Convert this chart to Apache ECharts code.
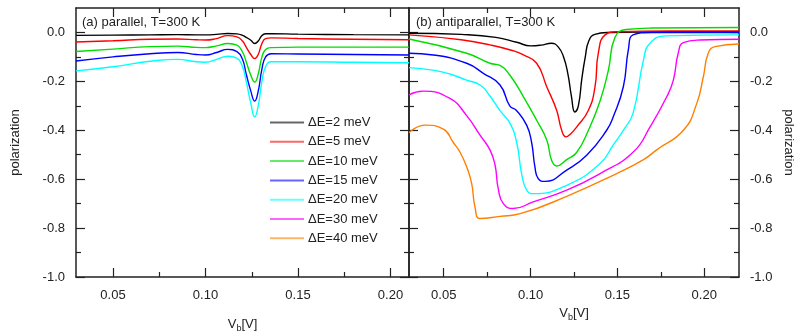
<!DOCTYPE html>
<html>
<head>
<meta charset="utf-8">
<script src="https://cdn.jsdelivr.net/npm/echarts@6/dist/echarts.min.js"></script>
<style>
  html, body { margin: 0; padding: 0; background: #fff; }
  #chart { width: 798px; height: 334px; }
</style>
</head>
<body>
<div id="chart"></div>
<script>
// legend names / colours
const names = ['ΔE=2 meV', 'ΔE=5 meV', 'ΔE=10 meV', 'ΔE=15 meV', 'ΔE=20 meV', 'ΔE=30 meV', 'ΔE=40 meV']
const colors = ['#000000', '#ff0000', '#00dd00', '#0000ff', '#00ffff', '#ff00ff', '#ff8000']

// tick labels
const xMajor = [0.05, 0.10, 0.15, 0.20]
const xMinor = [0.075, 0.125, 0.175]
const yMajor = [-1.0, -0.8, -0.6, -0.4, -0.2, 0.0]
const yMinor = [-0.9, -0.7, -0.5, -0.3, -0.1]

// (a) parallel -- all curves share one V_b grid
const xPar = [0.03, 0.05, 0.07, 0.085, 0.095, 0.10, 0.106, 0.112, 0.117, 0.120, 0.122, 0.1245, 0.1266, 0.1285, 0.1305, 0.1325, 0.1355, 0.15, 0.18, 0.21]
const par2 = [-0.012, -0.011, -0.010, -0.009, -0.010, -0.010, -0.008, -0.004, -0.006, -0.012, -0.020, -0.032, -0.045, -0.035, -0.012, -0.005, -0.005, -0.007, -0.009, -0.010]
const par5 = [-0.039, -0.034, -0.028, -0.027, -0.030, -0.031, -0.025, -0.013, -0.018, -0.035, -0.060, -0.090, -0.107, -0.090, -0.045, -0.025, -0.022, -0.025, -0.028, -0.030]
const par10 = [-0.078, -0.068, -0.058, -0.056, -0.061, -0.062, -0.055, -0.045, -0.052, -0.080, -0.120, -0.175, -0.203, -0.170, -0.100, -0.070, -0.062, -0.060, -0.060, -0.060]
const par15 = [-0.117, -0.100, -0.087, -0.082, -0.090, -0.092, -0.082, -0.069, -0.078, -0.110, -0.170, -0.240, -0.281, -0.240, -0.150, -0.100, -0.087, -0.088, -0.090, -0.092]
const par20 = [-0.157, -0.140, -0.118, -0.110, -0.120, -0.122, -0.110, -0.097, -0.105, -0.140, -0.200, -0.290, -0.345, -0.300, -0.200, -0.140, -0.120, -0.120, -0.122, -0.124]

// (b) antiparallel -- each curve has its own V_b points
const xAnti2 = [0.03, 0.06, 0.08, 0.092, 0.100, 0.106, 0.112, 0.116, 0.119, 0.1215, 0.1235, 0.1255, 0.1275, 0.1295, 0.1315, 0.1335, 0.137, 0.145, 0.18, 0.22]
const anti2 = [-0.003, -0.008, -0.020, -0.040, -0.055, -0.052, -0.044, -0.060, -0.100, -0.170, -0.260, -0.325, -0.300, -0.190, -0.100, -0.035, -0.008, 0.0, 0.003, 0.003]
const xAnti5 = [0.03, 0.06, 0.0766, 0.09, 0.0959, 0.1035, 0.1093, 0.115, 0.1179, 0.1204, 0.123, 0.1266, 0.1333, 0.1371, 0.139, 0.1429, 0.15, 0.18, 0.22]
const anti5 = [-0.010, -0.030, -0.051, -0.075, -0.092, -0.126, -0.222, -0.318, -0.400, -0.427, -0.415, -0.386, -0.318, -0.222, -0.085, -0.010, 0.003, 0.006, 0.006]
const xAnti10 = [0.03, 0.0632, 0.0766, 0.0824, 0.088, 0.0959, 0.1035, 0.1093, 0.1122, 0.115, 0.1208, 0.1266, 0.1333, 0.14, 0.1448, 0.1486, 0.155, 0.17, 0.22]
const anti10 = [-0.027, -0.085, -0.126, -0.135, -0.174, -0.263, -0.359, -0.440, -0.525, -0.546, -0.520, -0.490, -0.400, -0.280, -0.154, -0.020, 0.012, 0.018, 0.020]
const xAnti15 = [0.03, 0.044, 0.0632, 0.0728, 0.0824, 0.088, 0.092, 0.0978, 0.1006, 0.1025, 0.1044, 0.1083, 0.1208, 0.1323, 0.1438, 0.1476, 0.1534, 0.1563, 0.159, 0.17, 0.22]
const anti15 = [-0.085, -0.092, -0.126, -0.167, -0.215, -0.300, -0.320, -0.380, -0.450, -0.550, -0.598, -0.609, -0.563, -0.502, -0.400, -0.345, -0.222, -0.070, -0.010, 0.0, 0.0]
const xAnti20 = [0.03, 0.0438, 0.0536, 0.0632, 0.0709, 0.0766, 0.0824, 0.088, 0.092, 0.0949, 0.0978, 0.1016, 0.1208, 0.14, 0.1476, 0.1534, 0.159, 0.165, 0.1688, 0.178, 0.22]
const anti20 = [-0.144, -0.154, -0.170, -0.195, -0.215, -0.260, -0.320, -0.370, -0.450, -0.580, -0.645, -0.659, -0.625, -0.536, -0.460, -0.400, -0.330, -0.113, -0.044, -0.014, -0.010]
const xAnti30 = [0.03, 0.038, 0.0536, 0.0632, 0.0709, 0.0766, 0.0795, 0.0814, 0.0843, 0.09, 0.1015, 0.1208, 0.14, 0.159, 0.1688, 0.1784, 0.1822, 0.185, 0.188, 0.1976, 0.22]
const anti30 = [-0.255, -0.240, -0.270, -0.340, -0.420, -0.480, -0.540, -0.640, -0.700, -0.720, -0.693, -0.645, -0.577, -0.490, -0.386, -0.263, -0.195, -0.085, -0.042, -0.031, -0.028]
const xAnti40 = [0.03, 0.0392, 0.0498, 0.0555, 0.0594, 0.0632, 0.0661, 0.068, 0.0709, 0.0824, 0.094, 0.1208, 0.1496, 0.165, 0.1726, 0.188, 0.1957, 0.1995, 0.2023, 0.2062, 0.22]
const anti40 = [-0.410, -0.379, -0.395, -0.450, -0.490, -0.550, -0.618, -0.714, -0.761, -0.752, -0.741, -0.670, -0.577, -0.520, -0.480, -0.400, -0.290, -0.180, -0.085, -0.058, -0.047]

const FONT = 'Liberation Sans'
const INK = '#222'

const zip = (xs, ys) => xs.map((x, i) => [x, ys[i]])

// one grid gets 4 x axes (bottom/top, major/minor) and 4 y axes
function xAxesFor(gi, max, nameGap) {
  const base = {
    type: 'value', gridIndex: gi, min: 0.03, max: max,
    splitLine: {show: false},
    axisLine: {onZero: false, lineStyle: {color: INK, width: 1.5}},
  }
  const tick = (vals, len) => ({show: true, inside: true, length: len, customValues: vals, lineStyle: {color: INK, width: 1.2}})
  return [
    Object.assign({}, base, {
      position: 'bottom',
      axisTick: tick(xMajor, 9),
      axisLabel: {customValues: xMajor, margin: 12, color: INK, fontSize: 13, fontFamily: FONT, formatter: v => v.toFixed(2)},
      name: 'V{s|b}[V]',
      nameLocation: 'middle', nameGap: nameGap,
      nameTextStyle: {color: INK, fontSize: 13, fontFamily: FONT, rich: {s: {fontSize: 9, padding: [8, 0, 0, 0], fontFamily: FONT, color: INK}}},
    }),
    Object.assign({}, base, {position: 'bottom', axisLine: {show: false, onZero: false}, axisTick: tick(xMinor, 5), axisLabel: {show: false}}),
    Object.assign({}, base, {position: 'top', axisTick: tick(xMajor, 9), axisLabel: {show: false}}),
    Object.assign({}, base, {position: 'top', axisLine: {show: false, onZero: false}, axisTick: tick(xMinor, 5), axisLabel: {show: false}}),
  ]
}

function yAxesFor(gi, labelSide) {
  const base = {
    type: 'value', gridIndex: gi, min: -1.0, max: 0.1,
    splitLine: {show: false},
    axisLine: {onZero: false, lineStyle: {color: INK, width: 1.5}},
  }
  const tick = (vals, len) => ({show: true, inside: true, length: len, customValues: vals, lineStyle: {color: INK, width: 1.2}})
  const major = side => Object.assign({}, base, {
    position: side,
    axisTick: tick(yMajor, 9),
    axisLabel: side === labelSide
      ? {customValues: yMajor, margin: 11, color: INK, fontSize: 13, fontFamily: FONT, formatter: v => v.toFixed(1)}
      : {show: false},
    name: side === labelSide ? 'polarization' : '',
    nameLocation: 'middle',
    nameRotate: side === 'left' ? 90 : -90,
    nameGap: side === 'left' ? 54 : 43,
    nameTextStyle: {color: INK, fontSize: 13, fontFamily: FONT},
  })
  const minor = side => Object.assign({}, base, {position: side, axisLine: {show: false, onZero: false}, axisTick: tick(yMinor, 5), axisLabel: {show: false}})
  return [major('left'), minor('left'), major('right'), minor('right')]
}

function lineSeries(name, color, data, axisIdx) {
  return {
    name: name, type: 'line', data: data,
    xAxisIndex: axisIdx, yAxisIndex: axisIdx,
    showSymbol: false, symbol: 'none',
    smooth: 0.5,
    lineStyle: {color: color, width: 1.4},
    itemStyle: {color: color},
    animation: false,
  }
}

const parSets = [par2, par5, par10, par15, par20]
const antiSets = [zip(xAnti2, anti2), zip(xAnti5, anti5), zip(xAnti10, anti10), zip(xAnti15, anti15),
  zip(xAnti20, anti20), zip(xAnti30, anti30), zip(xAnti40, anti40)]

const series = []
parSets.forEach((ys, i) => series.push(lineSeries(names[i], colors[i], zip(xPar, ys), 0)))
antiSets.forEach((d, i) => series.push(lineSeries(names[i], colors[i], d, 4)))

const chart = echarts.init(document.getElementById('chart'), null, {renderer: 'canvas'})
chart.setOption({
  animation: false,
  backgroundColor: '#fff',
  title: [
    {text: '(a) parallel, T=300 K', left: 82, top: 16, padding: 0, textStyle: {fontSize: 13, fontWeight: 'normal', color: INK, fontFamily: FONT}},
    {text: '(b) antiparallel, T=300 K', left: 416, top: 16, padding: 0, textStyle: {fontSize: 13, fontWeight: 'normal', color: INK, fontFamily: FONT}},
  ],
  legend: {
    data: names,
    orient: 'vertical',
    left: 270, top: 116,
    icon: 'rect',
    itemWidth: 34, itemHeight: 2, itemGap: 6.3,
    padding: 0,
    itemStyle: {opacity: 0.6},
    textStyle: {fontSize: 13, color: INK, fontFamily: FONT, padding: [0, 0, 0, -1]},
  },
  grid: [
    {left: 76, right: 389, top: 8, bottom: 57, outerBoundsMode: 'none'},
    {left: 409, right: 59, top: 8, bottom: 57, outerBoundsMode: 'none'},
  ],
  xAxis: [...xAxesFor(0, 0.21, 39), ...xAxesFor(1, 0.22, 20)],
  yAxis: [...yAxesFor(0, 'left'), ...yAxesFor(1, 'right')],
  series: series,
})
</script>
</body>
</html>
